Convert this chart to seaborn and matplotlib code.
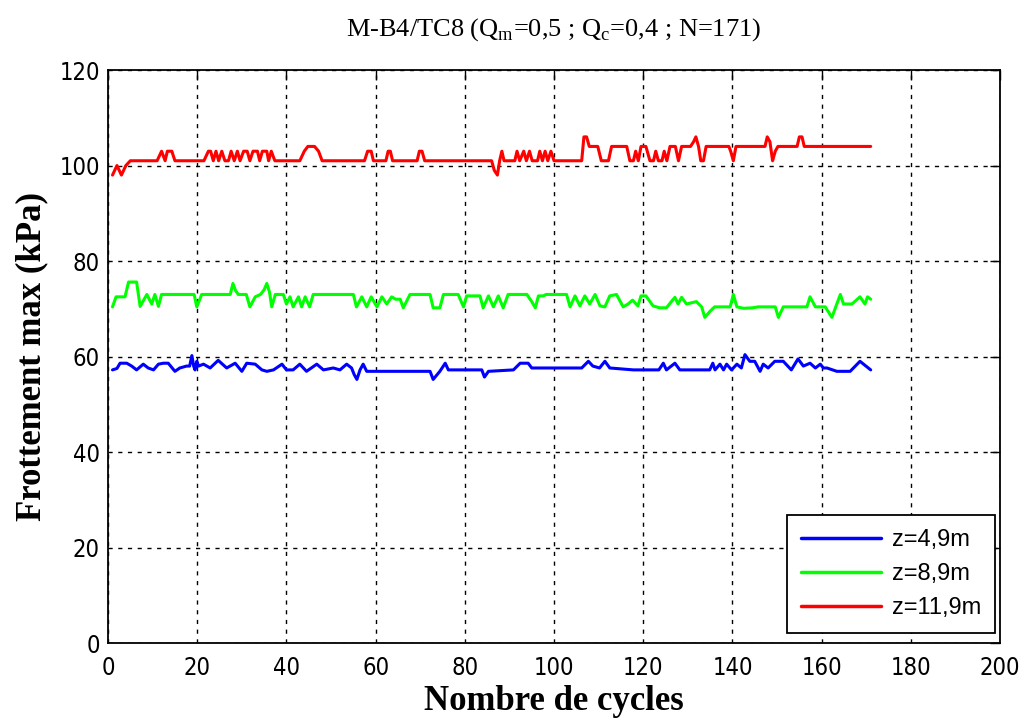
import numpy as np
import pandas as pd
import matplotlib
matplotlib.use("Agg")
import matplotlib.pyplot as plt
import seaborn as sns

# breakpoints (cycle, frottement max en kPa)
blue_x = [1, 2, 2.7, 4.2, 5.3, 6.4, 7.9, 9, 10.2, 11.3, 12.4, 13.5, 15, 16.1, 17.6, 18.3, 18.8, 19.2,
          19.5, 19.9, 20.3, 21.4, 22.9, 24.7, 26.6, 28.5, 30, 31.1, 33, 34.5, 35.6, 37.1, 39, 40,
          41.5, 43, 44.5, 46.8, 48.3, 50.5, 52, 53.5, 54.6, 55.2, 55.8, 56.5, 57.2, 58, 72.2, 72.9,
          74.4, 75.6, 76.3, 83.8, 84.4, 85.3, 90.9, 92.4, 94.2, 95, 106.2, 107.7, 108.7, 110.2,
          111.4, 112.5, 117.8, 120.4, 123.5, 124.5, 125.2, 127.1, 128.2, 134.9, 135.6, 136.1,
          137.2, 138, 138.7, 139.8, 141, 142, 142.8, 143.9, 145, 146.2, 146.9, 148, 149.5, 151.4,
          153.2, 154.7, 155.9, 157.4, 158.6, 159.7, 160.4, 161.2, 163.4, 166.4, 168.6, 171]
blue_y = [57.2, 57.5, 58.6, 58.6, 58, 57.2, 58.4, 57.6, 57.2, 58.4, 58.6, 58.6, 56.9, 57.6, 58, 58,
          60.2, 58, 57.2, 59, 58, 58.4, 57.6, 59.2, 57.6, 58.6, 56.9, 58.6, 58.4, 57.2, 56.9, 57.2,
          58.4, 57.2, 57.2, 58.4, 56.9, 58.4, 57.2, 57.6, 57.2, 58.4, 57.6, 56.2, 55.2, 57.2, 58.4,
          56.9, 56.9, 55.2, 56.9, 58.6, 57.2, 57.2, 55.7, 56.9, 57.2, 58.6, 58.6, 57.6, 57.6, 59,
          58, 57.6, 59, 57.6, 57.2, 57.2, 57.2, 58.6, 57.2, 58.6, 57.2, 57.2, 58.6, 57.2, 58.4,
          57.2, 58.4, 57.2, 58.4, 57.6, 60.4, 59, 59, 56.9, 58.4, 57.6, 59, 59, 57.2, 59.5, 58,
          58.6, 57.6, 58.4, 57.6, 57.6, 56.9, 56.9, 59, 57.2]

green_x = [1, 1.8, 3.8, 4.6, 6.4, 7.2, 8.7, 9.8, 10.5, 11.3, 12, 19.3, 19.9, 21, 27.4, 28, 28.6,
           29.2, 31, 31.8, 33, 34.2, 35, 35.6, 36.2, 36.7, 37.5, 39.3, 40, 40.8, 41.5, 42.7, 43.4,
           44.2, 45.2, 46, 55, 55.7, 56.9, 58, 59, 60.3, 61.4, 62.5, 63.6, 64.5, 65.5, 66.2, 67.7,
           72.2, 72.9, 74.4, 75.2, 78.5, 79.7, 80.4, 83.4, 84.1, 85.3, 86.4, 87.5, 88.6, 89.7,
           93.9, 95, 95.8, 96.5, 97.6, 98.2, 102.8, 103.6, 104.7, 105.8, 106.9, 108, 109.2, 110.3,
           111.4, 112.5, 114, 115.5, 116.6, 117.6, 118.8, 119.5, 120.6, 122.2, 123.7, 125.2,
           126.3, 127.1, 127.8, 128.6, 129.7, 131.9, 133.1, 133.8, 135, 136, 139.5, 140.2, 141,
           142.5, 144.5, 145.8, 149.6, 150.3, 151.4, 156.7, 157.4, 158.6, 160.8, 162.3, 163.4,
           164.2, 164.9, 166.8, 168.6, 169.7, 170.3, 171]
green_y = [70.4, 72.5, 72.5, 75.6, 75.6, 70.5, 73, 71, 73, 70.5, 73, 73, 70.4, 73, 73, 75.3, 73.8,
           73, 73, 70.4, 72.5, 73, 74, 75.3, 73.5, 70.4, 73, 73, 71, 72.5, 70.4, 72.5, 70.4, 72.5,
           70.4, 73, 73, 70.4, 72.5, 70.4, 72.5, 70.4, 72.5, 71, 72.5, 72, 72, 70.2, 73, 73, 70.2,
           70.2, 73, 73, 70.4, 72.7, 72.7, 70.2, 72.7, 70.4, 72.7, 70.2, 73, 73, 71.5, 70.2, 72.7,
           72.7, 73, 73, 70.4, 72.7, 70.6, 72.7, 71, 73, 70.6, 70.4, 72.7, 73, 70.4, 71, 71.8,
           70.6, 72.7, 72.7, 70.6, 70.2, 70.2, 71.5, 72.4, 71, 72.4, 71, 71.5, 70.4, 68.2, 69.5,
           70.4, 70.4, 73, 70.4, 70.1, 70.2, 70.4, 70.4, 68.2, 70.4, 70.4, 72.5, 70.4, 70.4, 68.2,
           71, 73, 71, 71, 72.5, 71, 72.5, 72]

red_x = [1, 2, 3, 4, 5, 11, 12, 12.8, 13.3, 14.3, 15, 21.5, 22.5, 23, 23.6, 24.2, 24.8, 25.5,
         26.2, 27, 27.6, 28.3, 29, 29.6, 30.4, 31.2, 31.8, 32.5, 33.5, 34, 34.6, 35.6, 36, 36.6,
         37.4, 43, 44, 44.8, 46.3, 47.2, 48, 57.5, 58.2, 59, 59.5, 62.3, 62.8, 63.3, 63.8, 69.3,
         69.8, 70.4, 71, 86, 86.6, 87.3, 87.8, 88.3, 88.8, 91.2, 91.7, 92.3, 93.2, 93.8, 94.5,
         95.1, 96.3, 96.8, 97.4, 98, 98.6, 99.3, 100, 106.2, 106.7, 107.3, 107.9, 109.8, 110.6,
         112.2, 112.9, 116.3, 117, 117.8, 118.3, 118.9, 119.5, 120.6, 121.5, 122.3, 122.8, 123.4,
         124.2, 124.7, 125.3, 126, 127.2, 127.9, 128.6, 130.6, 131.3, 131.8, 132.4, 132.9,
         133.5, 134.1, 139.2, 139.6, 140.2, 140.8, 147.3, 147.8, 148.4, 149, 149.6, 150.2,
         154.5, 155, 155.6, 156.1, 171]
red_y = [98, 100, 98, 100, 101, 101, 103, 101, 103, 103, 101, 101, 103, 103, 101, 103, 101, 103,
         101, 101, 103, 101, 103, 101, 103, 103, 101, 103, 103, 101, 103, 103, 101, 103, 101, 101,
         103, 104, 104, 103, 101, 101, 103, 103, 101, 101, 103, 103, 101, 101, 103, 103, 101, 101,
         99, 98, 101, 103, 101, 101, 103, 101, 103, 101, 103, 101, 101, 103, 101, 103, 101, 103,
         101, 101, 106, 106, 104, 104, 101, 101, 104, 104, 101, 101, 103, 101, 104, 104, 101, 101,
         103, 101, 101, 103, 101, 104, 104, 101, 104, 104, 105, 106, 104, 101, 101, 104, 104, 103,
         101, 104, 104, 106, 105, 101, 103, 104, 104, 106, 106, 104, 104]

labels = ["z=4,9m", "z=8,9m", "z=11,9m"]
colors = ["#0000ff", "#00ff00", "#ff0000"]

df = pd.concat([
    pd.DataFrame({"cycle": blue_x, "frot": blue_y, "serie": labels[0]}),
    pd.DataFrame({"cycle": green_x, "frot": green_y, "serie": labels[1]}),
    pd.DataFrame({"cycle": red_x, "frot": red_y, "serie": labels[2]}),
])

sns.set_theme(style="white")
plt.rcParams['font.family'] = ['Liberation Serif', 'DejaVu Serif']
plt.rcParams['mathtext.fontset'] = 'custom'
plt.rcParams['mathtext.rm'] = 'Liberation Serif'
plt.rcParams['text.color'] = 'black'

fig = plt.figure(figsize=(10.26, 7.22), dpi=100)
ax = fig.add_axes([0.1053, 0.1094, 0.8694, 0.7936])

sns.lineplot(data=df, x="cycle", y="frot", hue="serie", palette=colors,
             estimator=None, sort=False, linewidth=2.2, ax=ax)

ax.set_xlim(0, 200)
ax.set_ylim(0, 120)
ax.set_xticks(np.arange(0, 201, 20))
ax.set_yticks(np.arange(0, 121, 20))
ax.grid(True, color="black", linestyle=(0, (3, 4)), linewidth=1)
for s in ax.spines.values():
    s.set_color("black")
    s.set_linewidth(1.3)
ax.tick_params(direction="in", length=7, width=1, color="black", top=True, right=True,
               labelsize=17, labelcolor="black")
ax.tick_params(axis="x", pad=9)
ax.tick_params(axis="y", pad=6)
for t in ax.get_xticklabels() + ax.get_yticklabels():
    t.set_fontfamily(['DejaVu Sans'])
    t.set_fontstretch('condensed')

ax.set_xlabel("Nombre de cycles", fontsize=25, fontweight="bold", color="black", labelpad=4)
ax.set_ylabel("Frottement max (kPa)", fontsize=25, fontweight="bold", color="black", labelpad=8)
ax.set_title(r"M-B4/TC8 (Q$_\mathregular{m}$=0,5 ; Q$_\mathregular{c}$=0,4 ; N=171)",
             fontsize=19, color="black", pad=25)

leg = ax.legend(loc="lower right", fancybox=False, framealpha=1, edgecolor="black",
                handlelength=3.4, handletextpad=0.45, borderpad=0.6, labelspacing=0.5,
                borderaxespad=0,
                prop={'family': ['Liberation Sans', 'DejaVu Sans'], 'size': 17},
                bbox_to_anchor=(0.9944, 0.0175))
leg.get_frame().set_linewidth(1.3)
for t in leg.get_texts():
    t.set_color("black")
for line in leg.get_lines():
    line.set_linewidth(2.5)

fig.savefig("out.png", dpi=100, facecolor="white")
